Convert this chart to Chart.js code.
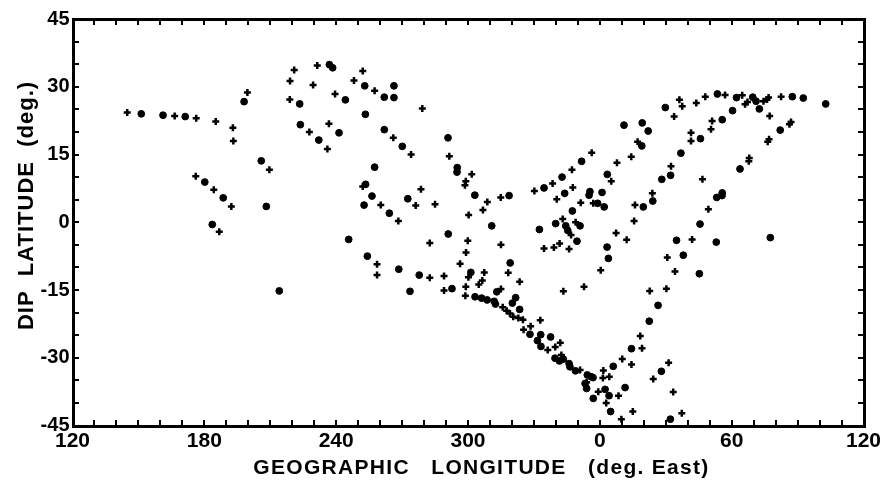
<!DOCTYPE html>
<html>
<head>
<meta charset="utf-8">
<script src="https://cdn.jsdelivr.net/npm/chart.js@4/dist/chart.umd.min.js"></script>
<style>
  html, body { margin: 0; padding: 0; background: #fff; }
  canvas { display: block; }
</style>
</head>
<body>
<canvas id="dip_chart" width="888" height="482"></canvas>
<script>
// longitudes in degrees East (0-360), dip latitudes in degrees
const crossLon = [144.9, 166.5, 176.3, 185.2, 193.0, 193.2, 199.6, 209.6, 176.1, 184.3, 192.3, 186.8,
    219.0, 220.9, 218.9, 227.8, 236.0, 231.4, 229.5, 239.5, 236.7, 248.1, 252.1, 257.5, 266.0, 274.1,
    279.2, 291.5, 301.7, 299.0, 298.6, 252.1, 260.3, 268.3, 276.2, 278.6, 285.0, 308.8, 306.8, 300.3,
    314.9, 330.2, 338.5, 347.3, 356.3, 340.4, 347.7, 351.3, 357.0, 5.2, 7.8, 14.3, 17.2, 16.0, 15.6,
    7.4, 12.2, 343.1, 349.0, 346.9, 334.6, 339.1, 341.7, 346.0, 282.6, 299.9, 315.0, 258.6, 258.6,
    282.6, 289.1, 289.1, 299.1, 296.4, 300.2, 307.4, 304.9, 306.5, 299.0, 298.8, 315.0, 318.3, 323.5,
    315.8, 317.6, 319.1, 320.6, 322.9, 325.0, 332.9, 328.5, 325.3, 336.3, 339.7, 342.0, 342.5, 351.0,
    343.4, 352.8, 0.4, 30.7, 34.2, 30.3, 22.7, 18.4, 19.2, 10.2, 14.4, 31.3, 24.3, 33.4, 37.3, 1.6,
    1.4, 4.3, 359.3, 8.5, 2.9, 15.0, 9.8, 354.0, 33.8, 36.2, 37.5, 43.9, 48.0, 57.0, 64.8, 66.1, 67.2,
    74.5, 76.1, 76.8, 82.5, 77.3, 86.3, 87.0, 76.4, 77.0, 67.8, 68.0, 51.1, 50.6, 41.5, 41.5, 32.4,
    23.9, 46.7, 49.4, 42.0];
const crossLat = [24.3, 23.5, 23.0, 22.3, 20.9, 18.0, 28.7, 11.6, 10.2, 7.2, 3.5, -2.1,
    31.3, 33.7, 27.2, 20.0, 16.2, 34.7, 30.4, 28.4, 21.8, 31.4, 33.5, 29.1, 18.7, 15.0,
    25.2, 14.6, 10.6, 9.1, 8.2, 7.9, 3.8, 0.3, 3.7, 7.3, 4.0, 4.5, 2.7, 1.6,
    5.5, 6.9, 8.6, 11.6, 15.4, 5.1, 7.7, 4.3, 4.2, 9.1, 13.2, 14.5, 17.8, 3.8, 0.3,
    -2.4, -3.9, 0.7, 0.0, -2.8, -5.8, -5.6, -4.7, -5.9, -4.6, -4.1, -5.0, -9.3, -11.7,
    -12.3, -11.9, -15.1, -6.7, -9.2, -12.2, -11.1, -13.8, -12.9, -14.3, -16.3, -14.8, -11.2, -13.2,
    -18.8, -19.6, -20.2, -20.9, -21.2, -21.6, -21.7, -23.0, -23.8, -28.3, -27.6, -26.7, -29.4, -32.7,
    -15.3, -14.3, -10.6, -7.8, -10.9, -14.7, -15.2, -25.2, -27.9, -30.3, -31.5, -31.1, -34.7, -37.6, -42.3, -32.8,
    -34.5, -34.2, -37.5, -38.4, -40.0, -41.9, -43.6, -35.4, 23.4, 27.1, 25.7, 26.4, 27.8, 28.2, 28.1, 26.1, 26.6,
    26.8, 27.2, 27.6, 27.8, 23.5, 21.7, 22.2, 17.8, 18.4, 13.5, 14.2, 22.4, 20.6, 19.8, 18.0, 12.4,
    6.4, 9.5, 2.9, -3.8];

const dotLon = [151.3, 161.2, 171.3, 198.1, 205.9, 208.2, 180.2, 188.6, 183.6, 214.1, 223.4, 223.7,
    232.1, 236.9, 238.4, 244.2, 241.3, 253.0, 261.9, 266.3, 266.3, 253.3, 261.9, 270.1, 290.9, 295.1,
    295.0, 303.1, 257.5, 253.4, 256.3, 252.7, 264.2, 272.6, 310.8, 318.7, 334.6, 342.8, 351.7, 344.0,
    347.5, 355.5, 355.1, 359.0, 2.0, 1.0, 3.4, 19.1, 19.8, 3.3, 3.9, 332.5, 339.9, 344.5, 345.4, 351.0,
    349.6, 245.7, 291.0, 254.2, 268.5, 273.6, 277.8, 292.7, 301.3, 303.2, 306.2, 308.7, 311.9, 312.5,
    313.1, 319.2, 321.7, 320.2, 323.5, 328.2, 333.1, 337.6, 331.6, 333.2, 339.6, 341.6, 343.4, 346.0,
    346.4, 348.9, 354.3, 356.0, 356.9, 353.3, 354.0, 357.0, 6.1, 2.4, 4.2, 4.9, 11.5, 14.4, 22.5, 26.5,
    28.0, 32.1, 38.0, 45.3, 34.9, 53.0, 77.6, 45.6, 53.2, 55.7, 55.6, 63.8, 82.1, 11.0, 19.3, 22.0,
    29.8, 53.5, 62.2, 69.6, 71.1, 72.6, 87.6, 92.6, 102.8, 60.4, 55.7, 45.8, 36.9, 32.2, 28.2, 24.1];
const dotLat = [24.0, 23.7, 23.4, 26.7, 13.6, 3.5, 8.9, 5.4, -0.5, -15.2, 26.2, 21.6,
    18.2, 34.9, 34.2, 27.1, 19.8, 30.2, 27.7, 30.2, 27.6, 23.9, 20.5, 16.8, 18.7, 12.1,
    11.1, 6.0, 12.2, 8.4, 5.8, 3.8, 2.0, 5.2, -0.8, 5.9, 7.6, 10.0, 13.5, 6.4,
    2.5, 6.8, 6.0, 4.2, 3.4, 6.6, 10.6, 16.9, 3.4, -5.5, -8.0, -1.6, -0.3, -0.8, -1.8, -0.8,
    -4.2, -3.8, -2.6, -7.5, -10.4, -15.3, -11.7, -14.7, -11.1, -16.5, -16.8, -17.2, -17.5, -18.1,
    -15.4, -9.0, -16.7, -17.9, -19.3, -24.8, -24.9, -25.4, -26.2, -27.5, -30.1, -30.7, -30.3, -31.3,
    -32.0, -32.9, -33.8, -34.2, -34.4, -35.7, -36.8, -39.0, -31.9, -37.0, -38.4, -41.9, -36.6, -28.0, -21.9, -18.4,
    -33.0, -43.6, -7.3, -11.4, -4.0, -4.4, -3.4, -0.4, 5.5, 6.5, 5.9, 11.8, 20.4, 21.5, 22.0, 20.2,
    25.4, 28.4, 27.6, 27.7, 26.8, 25.1, 27.8, 27.5, 26.2, 24.7, 22.7, 18.5, 15.3, 10.4, 9.5, 4.7];

const xTitle = 'GEOGRAPHIC   LONGITUDE   (deg. East)';
const yTitle = 'DIP  LATITUDE  (deg.)';

// axis runs 120E -> 360 -> 120E, so longitudes below 120 are pushed past 360
function toAxis(lon) {
    return lon < 120 ? lon + 360 : lon;
}
function makePoints(lons, lats) {
    return lons.map((lon, i) => ({ x: toAxis(lon), y: lats[i] }));
}

// box frame, inward tick marks on all four sides, axis titles
const frame = {
    id: 'frame',
    afterDraw(chart) {
        const ctx = chart.ctx;
        const a = chart.chartArea;
        const x = chart.scales.x;
        const y = chart.scales.y;
        const L = Math.round(a.left), R = Math.round(a.right);
        const T = Math.round(a.top), B = Math.round(a.bottom);
        ctx.save();
        ctx.fillStyle = '#000';
        x.ticks.forEach(t => {
            const px = Math.round(x.getPixelForValue(t.value));
            ctx.fillRect(px - 1, B - 6, 2, 6);
            ctx.fillRect(px - 1, T, 2, 6);
        });
        y.ticks.forEach(t => {
            const py = Math.round(y.getPixelForValue(t.value));
            ctx.fillRect(L, py - 1, 6, 2);
            ctx.fillRect(R - 6, py - 1, 6, 2);
        });
        // box
        ctx.fillRect(L - 1, T - 1, R - L + 3, 3);
        ctx.fillRect(L - 1, B - 1, R - L + 3, 3);
        ctx.fillRect(L - 1, T - 1, 3, B - T + 3);
        ctx.fillRect(R - 1, T - 1, 3, B - T + 3);

        ctx.font = 'bold 21px "Liberation Sans", Arial, sans-serif';
        ctx.textAlign = 'center';
        ctx.textBaseline = 'middle';
        ctx.letterSpacing = '1.3px';
        ctx.fillText(xTitle, (L + R) / 2 + 13, B + 42);
        ctx.font = 'bold 22px "Liberation Sans", Arial, sans-serif';
        ctx.letterSpacing = '1px';
        ctx.translate(27, (T + B) / 2 - 17);
        ctx.rotate(-Math.PI / 2);
        ctx.fillText(yTitle, 0, 0);
        ctx.restore();
    }
};

const tickFont = '"Liberation Sans", Arial, sans-serif';

var dip_chart = document.getElementById('dip_chart').getContext('2d');
var dip_chart = new Chart(dip_chart, {
    type: 'scatter',
    data: {
        datasets: [{
            label: 'cross',
            data: makePoints(crossLon, crossLat),
            pointStyle: 'cross',
            pointRadius: 3.5,
            borderColor: '#000',
            backgroundColor: '#000',
            borderWidth: 2.5
        }, {
            label: 'dot',
            data: makePoints(dotLon, dotLat),
            pointStyle: 'circle',
            pointRadius: 3.4,
            borderColor: '#000',
            backgroundColor: '#000',
            borderWidth: 1
        }]
    },
    options: {
        responsive: false,
        animation: false,
        devicePixelRatio: 1,
        layout: {
            padding: { top: 19, right: 24.5, bottom: 0, left: 0 }
        },
        plugins: {
            legend: { display: false },
            tooltip: { enabled: false }
        },
        scales: {
            x: {
                type: 'linear',
                min: 120,
                max: 480,
                afterFit: scale => { scale.height = 56.5; },
                grid: { display: false, drawTicks: false },
                border: { display: false },
                ticks: {
                    stepSize: 10,
                    autoSkip: false,
                    maxRotation: 0,
                    padding: 3,
                    color: '#000',
                    font: { family: tickFont, size: 21, weight: 'bold' },
                    callback: v => v % 60 === 0 ? String(v % 360) : ''
                }
            },
            y: {
                min: -45,
                max: 45,
                afterFit: scale => { scale.width = 72.5; },
                grid: { display: false, drawTicks: false },
                border: { display: false },
                ticks: {
                    stepSize: 5,
                    autoSkip: false,
                    padding: 3,
                    color: '#000',
                    font: { family: tickFont, size: 20, weight: 'bold' },
                    callback: v => v % 15 === 0 ? String(v) : ''
                }
            }
        }
    },
    plugins: [frame]
});
</script>
</body>
</html>
